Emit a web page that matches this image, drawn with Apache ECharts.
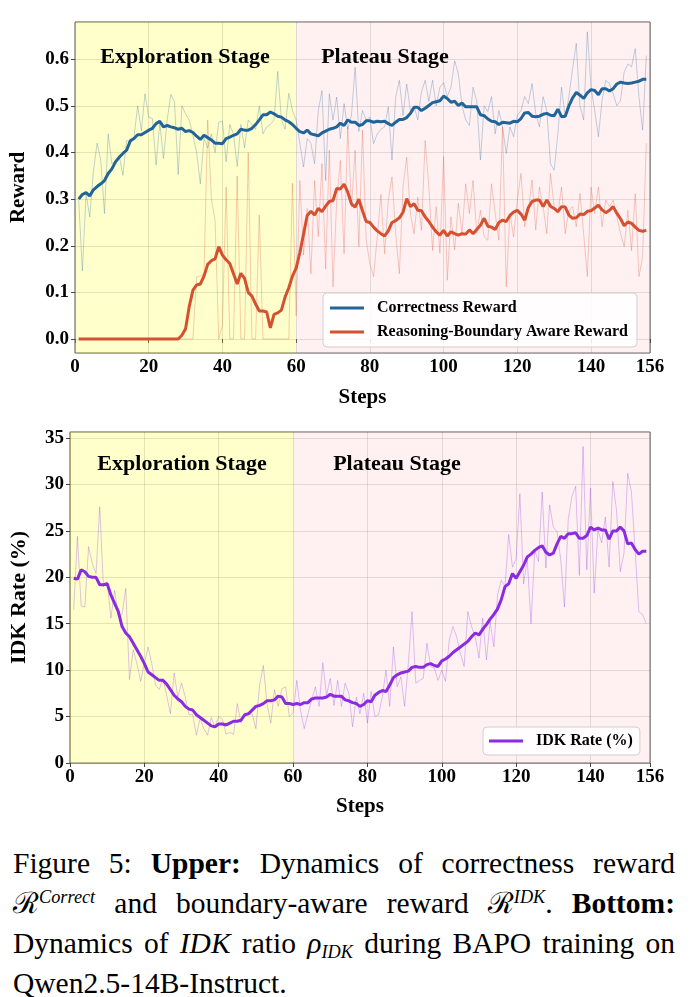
<!DOCTYPE html>
<html>
<head>
<meta charset="utf-8">
<script src="https://cdn.jsdelivr.net/npm/echarts@6/dist/echarts.min.js"></script>
<style>
html,body{margin:0;padding:0;background:#fff;}
#wrap{position:relative;width:691px;height:997px;overflow:hidden;}
#chart{position:absolute;left:0;top:0;width:691px;height:830px;}
#cap{position:absolute;left:13px;top:843px;width:662px;font-family:'Liberation Serif','Times New Roman',serif;font-size:29.5px;color:#000;}
#cap .ln{height:40px;line-height:40px;text-align:justify;text-align-last:justify;white-space:nowrap;}
#cap .ln.last{text-align-last:left;}
#cap .sp{font-size:0.62em;position:relative;top:-0.55em;font-style:italic;}
#cap .sb{font-size:0.62em;position:relative;top:0.3em;font-style:italic;}
</style>
</head>
<body>
<div id="wrap">
<div id="chart"></div>
<div id="cap">
<div class="ln">Figure 5: <b>Upper:</b> Dynamics of correctness reward</div>
<div class="ln">&#8475;<span class="sp">Correct</span> and boundary-aware reward &#8475;<span class="sp">IDK</span>. <b>Bottom:</b></div>
<div class="ln">Dynamics of <i>IDK</i> ratio <i>&rho;</i><span class="sb">IDK</span> during BAPO training on</div>
<div class="ln last">Qwen2.5-14B-Instruct.</div>
</div>
</div>
<script>
// ---- data (steps 1..155) ----
const corrSmooth = [
0.300,0.310,0.314,0.307,0.320,0.327,0.333,0.340,0.355,0.365,
0.380,0.390,0.398,0.405,0.425,0.430,0.438,0.438,0.443,0.448,
0.452,0.462,0.467,0.455,0.458,0.455,0.453,0.450,0.452,0.445,
0.447,0.443,0.435,0.428,0.437,0.432,0.427,0.420,0.420,0.419,
0.430,0.433,0.437,0.440,0.450,0.448,0.448,0.452,0.460,0.470,
0.481,0.481,0.487,0.483,0.478,0.476,0.470,0.466,0.460,0.452,
0.445,0.442,0.448,0.440,0.438,0.436,0.442,0.446,0.450,0.452,
0.455,0.463,0.458,0.470,0.465,0.465,0.458,0.460,0.468,0.468,
0.465,0.467,0.466,0.467,0.462,0.458,0.465,0.471,0.471,0.475,
0.484,0.497,0.497,0.490,0.495,0.501,0.507,0.509,0.511,0.521,
0.516,0.508,0.510,0.501,0.506,0.498,0.498,0.498,0.498,0.481,
0.479,0.472,0.467,0.466,0.460,0.465,0.464,0.463,0.467,0.466,
0.473,0.485,0.486,0.478,0.477,0.478,0.482,0.484,0.480,0.479,
0.493,0.477,0.478,0.500,0.517,0.529,0.523,0.516,0.528,0.535,
0.533,0.524,0.537,0.537,0.532,0.537,0.547,0.551,0.549,0.548,
0.549,0.551,0.553,0.557,0.557];
const corrRaw = [
0.298,0.146,0.312,0.262,0.360,0.420,0.383,0.269,0.440,0.376,
0.383,0.394,0.351,0.426,0.422,0.433,0.500,0.447,0.526,0.476,
0.473,0.373,0.465,0.387,0.469,0.525,0.508,0.353,0.500,0.483,
0.469,0.437,0.400,0.333,0.430,0.410,0.440,0.400,0.465,0.468,
0.380,0.460,0.440,0.370,0.460,0.410,0.470,0.460,0.450,0.500,
0.440,0.455,0.460,0.470,0.574,0.470,0.450,0.527,0.490,0.470,
0.420,0.369,0.430,0.420,0.376,0.490,0.533,0.340,0.526,0.470,
0.519,0.430,0.505,0.450,0.480,0.583,0.445,0.490,0.470,0.476,
0.419,0.440,0.450,0.455,0.498,0.384,0.519,0.555,0.480,0.547,
0.490,0.500,0.470,0.530,0.555,0.510,0.555,0.500,0.540,0.550,
0.520,0.540,0.597,0.569,0.500,0.470,0.458,0.540,0.510,0.384,
0.500,0.488,0.520,0.440,0.490,0.455,0.398,0.455,0.434,0.480,
0.490,0.520,0.505,0.548,0.484,0.455,0.520,0.490,0.376,0.362,
0.440,0.540,0.476,0.520,0.580,0.634,0.500,0.470,0.659,0.540,
0.490,0.434,0.512,0.555,0.548,0.526,0.500,0.512,0.573,0.590,
0.584,0.623,0.520,0.448,0.608];
const rbSmooth = [
0,0,0,0,0,0,0,0,0,0,
0,0,0,0,0,0,0,0,0,0,
0,0,0,0,0,0,0,0,0.008,0.022,
0.070,0.105,0.116,0.118,0.135,0.160,0.168,0.172,0.198,0.180,
0.170,0.162,0.140,0.118,0.141,0.130,0.100,0.092,0.075,0.060,
0.060,0.058,0.024,0.053,0.056,0.062,0.090,0.110,0.135,0.152,
0.185,0.225,0.265,0.274,0.266,0.280,0.273,0.285,0.295,0.297,
0.323,0.322,0.332,0.315,0.290,0.283,0.300,0.275,0.252,0.250,
0.240,0.232,0.226,0.221,0.232,0.250,0.254,0.260,0.272,0.301,
0.284,0.290,0.276,0.275,0.262,0.252,0.240,0.230,0.223,0.233,
0.221,0.230,0.226,0.223,0.226,0.225,0.234,0.226,0.235,0.244,
0.259,0.242,0.240,0.235,0.250,0.255,0.252,0.265,0.272,0.276,
0.268,0.255,0.282,0.295,0.298,0.298,0.284,0.298,0.285,0.280,
0.273,0.284,0.283,0.266,0.259,0.260,0.268,0.267,0.274,0.275,
0.281,0.287,0.277,0.271,0.276,0.284,0.270,0.258,0.243,0.251,
0.248,0.240,0.233,0.231,0.233];
const rbRaw = [
0,0,0,0,0,0,0,0,0,0,
0,0,0,0,0,0,0,0,0,0,
0,0,0,0,0,0,0,0,0,0,
0,0,0.133,0.135,0.140,0.470,0.300,0.255,0,0.030,
0.326,0,0,0.350,0,0,0.400,0,0,0.266,
0,0,0,0,0,0,0,0,0.334,0.050,
0.340,0.180,0.280,0.140,0.340,0.220,0.376,0.150,0.405,0.112,
0.297,0.383,0.183,0.455,0.283,0.405,0.198,0.448,0.212,0.162,
0.134,0.219,0.310,0.183,0.298,0.348,0.226,0.140,0.326,0.390,
0.269,0.226,0.304,0.233,0.426,0.326,0.190,0.284,0.184,0.391,
0.126,0.262,0.191,0.291,0.226,0.333,0.269,0.340,0.226,0.276,
0.219,0.212,0.333,0.269,0.212,0.455,0.112,0.269,0.219,0.298,
0.355,0.241,0.276,0.341,0.234,0.326,0.284,0.226,0.355,0.284,
0.269,0.326,0.226,0.276,0.284,0.241,0.312,0.226,0.134,0.326,
0.269,0.326,0.241,0.298,0.284,0.298,0.262,0.226,0.198,0.276,
0.190,0.312,0.134,0.176,0.420];
const idkSmooth = [
19.9,19.8,20.8,20.6,20.1,20.0,20.0,19.2,19.2,19.3,
18.1,17.2,16.3,14.7,14.0,13.6,12.9,12.2,11.5,10.7,
9.8,9.5,9.2,8.9,8.9,8.5,7.9,7.3,6.9,6.6,
6.1,5.8,5.7,5.2,4.9,4.6,4.3,4.0,3.9,4.2,
4.2,4.1,4.3,4.5,4.5,4.6,5.2,5.3,5.7,6.1,
6.2,6.4,6.7,6.7,6.8,7.2,7.1,6.4,6.4,6.3,
6.4,6.3,6.5,6.5,6.9,7.0,7.0,7.0,7.1,7.4,
7.2,7.2,7.2,6.8,6.7,6.5,6.4,6.1,6.3,6.7,
6.6,7.3,7.6,7.8,7.7,8.4,9.2,9.5,9.7,9.8,
9.9,10.3,10.4,10.3,10.3,10.6,10.7,10.5,10.4,11.0,
11.2,11.5,11.9,12.2,12.5,12.8,13.1,13.6,14.0,13.8,
14.4,14.9,15.5,16.0,16.6,17.6,19.0,19.3,20.4,19.9,
20.6,21.3,22.2,22.5,22.9,23.2,23.4,22.7,22.4,22.6,
23.6,24.4,24.2,24.7,24.7,24.8,24.2,24.2,24.5,25.4,
25.1,25.3,25.1,25.1,24.1,25.0,25.0,25.4,25.0,23.6,
23.7,23.0,22.5,22.8,22.8];
const idkRaw = [
16.5,24.4,16.9,16.8,23.3,21.5,20.4,27.6,19.0,19.5,
15.6,18.6,15.8,16.0,18.8,9.0,12.2,10.7,8.8,10.7,
12.5,10.7,8.4,7.9,9.1,7.3,5.3,9.7,7.1,8.6,
7.1,5.2,5.2,3.0,4.8,3.7,3.0,4.9,3.9,5.0,
4.7,3.1,3.3,3.1,6.4,4.3,5.2,5.2,5.3,3.7,
8.4,10.5,6.4,4.3,7.9,6.1,8.0,8.2,5.0,5.4,
8.9,5.7,3.7,5.3,6.8,8.2,6.1,10.8,7.3,9.1,
6.2,8.9,6.1,8.6,7.5,3.9,7.1,5.3,7.5,4.3,
7.7,5.0,5.2,7.1,10.0,6.1,12.5,8.2,9.3,6.1,
10.7,16.3,8.6,8.9,9.1,12.9,10.4,10.2,8.9,10.0,
8.8,13.2,14.7,13.6,11.8,10.4,16.3,14.7,13.6,11.3,
15.6,11.1,15.2,12.5,18.1,19.7,19.0,24.6,21.1,22.0,
29.0,19.3,21.9,15.0,22.9,21.7,29.2,21.0,27.8,25.4,
24.9,21.9,16.8,26.2,28.7,29.8,20.2,34.1,20.8,29.6,
18.3,25.1,23.7,26.5,21.1,30.3,27.2,20.6,22.6,31.2,
29.2,22.9,16.3,16.0,15.0];
const xTicks = [0,20,40,60,80,100,120,140,156];
const rewardTicks = [0,0.1,0.2,0.3,0.4,0.5,0.6];
const idkTicks = [0,5,10,15,20,25,30,35];
const stageSplit = [0,60,156];
const stageNames = ['Exploration Stage','Plateau Stage'];
const seriesNames = ['Correctness Reward','Reasoning-Boundary Aware Reward','IDK Rate (%)'];

// ---- build ----
const pair = arr => arr.map((v,i)=>[i+1,v]);
const FONT = "'Liberation Serif','Times New Roman',serif";
const BLUE = '#21649a', RED = '#d4502f', PURPLE = '#8a2be2';
const YEL = 'rgba(255,255,0,0.2)', PINK = 'rgba(255,182,193,0.21)';

function xAx(grid){
  return {type:'value',gridIndex:grid,min:0,max:156,
    name:'Steps',nameLocation:'middle',nameGap:grid===0?34:33,
    nameTextStyle:{fontFamily:FONT,fontWeight:'bold',fontSize:21,color:'#000'},
    axisLine:{show:false},
    axisTick:{show:true,length:4,lineStyle:{color:'#444'},customValues:xTicks},
    axisLabel:{fontFamily:FONT,fontWeight:'bold',fontSize:19,color:'#000',margin:5,customValues:xTicks,showMinLabel:true,showMaxLabel:true},
    splitLine:{show:true,lineStyle:{color:'rgba(0,0,0,0.13)',width:1}}};
}
function yAx(grid,name,min,max,ticks,fmt,gap,fs){
  return {type:'value',gridIndex:grid,min:min,max:max,
    name:name,nameLocation:'middle',nameGap:gap,
    nameTextStyle:{fontFamily:FONT,fontWeight:'bold',fontSize:fs,color:'#000'},
    axisLine:{show:false},
    axisTick:{show:true,length:4,lineStyle:{color:'#444'},customValues:ticks},
    axisLabel:{fontFamily:FONT,fontWeight:'bold',fontSize:19,color:'#000',margin:6,customValues:ticks,formatter:fmt},
    splitLine:{show:true,lineStyle:{color:'rgba(0,0,0,0.13)',width:1}}};
}
const areas = [
  [{xAxis:stageSplit[0],itemStyle:{color:YEL}},{xAxis:stageSplit[1]}],
  [{xAxis:stageSplit[1],itemStyle:{color:PINK}},{xAxis:stageSplit[2]}]
];
function rawSeries(name,x,y,data,color,withArea){
  const s = {name:name,type:'line',xAxisIndex:x,yAxisIndex:y,data:pair(data),symbol:'none',
    lineStyle:{color:color,width:1,opacity:0.28},itemStyle:{color:color},z:2,silent:true,animation:false};
  if(withArea){ s.markArea = {silent:true,z:1,data:areas}; }
  return s;
}
function thick(name,x,y,data,color){
  return {name:name,type:'line',xAxisIndex:x,yAxisIndex:y,data:pair(data),symbol:'none',
    lineStyle:{color:color,width:3},itemStyle:{color:color},z:4,animation:false};
}
const legendText = {fontFamily:FONT,fontWeight:'bold',fontSize:16,color:'#000',padding:[0,0,0,8]};
const chart = echarts.init(document.getElementById('chart'),null,{renderer:'canvas'});
chart.setOption({
  animation:false,
  backgroundColor:'#fff',
  grid:[
    {left:74,top:22,width:576,height:331,show:true,borderColor:'#555',borderWidth:1,backgroundColor:'transparent'},
    {left:70,top:432,width:580,height:331,show:true,borderColor:'#555',borderWidth:1,backgroundColor:'transparent'}
  ],
  xAxis:[xAx(0),xAx(1)],
  yAxis:[
    yAx(0,'Reward',-0.03,0.68,rewardTicks,v=>v.toFixed(1),46,21),
    yAx(1,'IDK Rate (%)',0,35.65,idkTicks,v=>String(v),40,22)
  ],
  legend:[
    {data:[seriesNames[0],seriesNames[1]],orient:'vertical',left:323,top:293,
     icon:'rect',itemWidth:34,itemHeight:3,itemGap:8,padding:[7,9,7,7],
     backgroundColor:'rgba(255,255,255,0.85)',borderColor:'#d0d0d0',borderWidth:1,borderRadius:4,
     textStyle:legendText},
    {data:[seriesNames[2]],orient:'vertical',left:483,top:727,
     icon:'rect',itemWidth:34,itemHeight:3,padding:[6,7,6,6],
     backgroundColor:'rgba(255,255,255,0.85)',borderColor:'#d0d0d0',borderWidth:1,borderRadius:4,
     textStyle:legendText}
  ],
  graphic:[
    {type:'text',x:185,y:57,style:{text:stageNames[0],font:"bold 22px "+FONT,fill:'#000',align:'center',verticalAlign:'middle',textAlign:'center',textVerticalAlign:'middle'},z:10},
    {type:'text',x:385,y:57,style:{text:stageNames[1],font:"bold 22px "+FONT,fill:'#000',align:'center',verticalAlign:'middle',textAlign:'center',textVerticalAlign:'middle'},z:10},
    {type:'text',x:182,y:464,style:{text:stageNames[0],font:"bold 22px "+FONT,fill:'#000',align:'center',verticalAlign:'middle',textAlign:'center',textVerticalAlign:'middle'},z:10},
    {type:'text',x:397,y:464,style:{text:stageNames[1],font:"bold 22px "+FONT,fill:'#000',align:'center',verticalAlign:'middle',textAlign:'center',textVerticalAlign:'middle'},z:10}
  ],
  series:[
    rawSeries('corrRaw',0,0,corrRaw,BLUE,true),
    rawSeries('rbRaw',0,0,rbRaw,RED,false),
    thick(seriesNames[0],0,0,corrSmooth,BLUE),
    thick(seriesNames[1],0,0,rbSmooth,RED),
    rawSeries('idkRaw',1,1,idkRaw,PURPLE,true),
    thick(seriesNames[2],1,1,idkSmooth,PURPLE)
  ]
});
</script>
</body>
</html>
